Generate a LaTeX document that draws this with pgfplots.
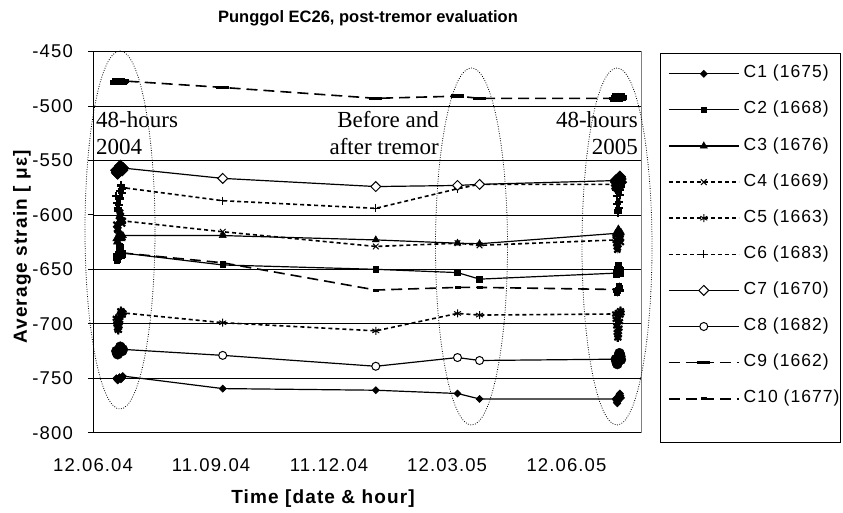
\documentclass[border=0pt]{standalone}
\usepackage{pgfplots}
\pgfplotsset{compat=1.18}
\usepackage{fontspec}
\setmainfont{Liberation Sans}
\newfontfamily\xl[LetterSpace=6]{Liberation Sans}
\newfontfamily\timesf{Liberation Serif}
\begin{document}
\begin{tikzpicture}
\useasboundingbox (-93pt,-79.3pt) rectangle (750pt,432.7pt);
\begin{axis}[
  at={(0pt,0pt)}, anchor=south west,
  scale only axis, width=548.7pt, height=381.2pt,
  xmin=0, xmax=423, ymin=-800, ymax=-450,
  clip=false,
  axis x line*=bottom, axis y line*=left,
  axis line style={black, line width=0.8pt, -},
  xtick={0,91,182,273,365},
  xticklabels={12.06.04,11.09.04,11.12.04,12.03.05,12.06.05},
  ytick={-800,-750,-700,-650,-600,-550,-500,-450},
  yticklabels={-800,-750,-700,-650,-600,-550,-500,-450},
  ymajorgrids, major grid style={black, line width=0.6pt},
  xtick style={draw=none},
  ytick style={black, line width=0.8pt},
  tick align=outside, major tick length=5pt,
  ticklabel style={font=\xl\fontsize{18.5}{21}\selectfont, inner sep=0pt},
  yticklabel style={anchor=east, xshift=-15pt},
  xticklabel style={anchor=base, yshift=-33.8pt},
  legend image code/.code={
    \draw[mark repeat=2,mark phase=2,#1] plot coordinates {(0pt,0pt) (35pt,0pt) (70pt,0pt)};
  },
  legend style={at={(1.04793,0.9625)}, anchor=north west, draw=none, fill=none,
    inner sep=0pt, outer sep=0pt, row sep=20.1pt, column sep=4pt,
    font=\xl\fontsize{17.5}{20}\selectfont,
    nodes={inner sep=0pt, text height=12pt, text depth=4pt}},
  legend cell align=left,
  solidl/.style={black, line width=1.2pt},
  dotl/.style={black, line width=1.6pt, dash pattern=on 4pt off 3pt},
  dashl/.style={black, line width=1.6pt, dash pattern=on 11pt off 6pt},
]
% C1
\addplot[solidl, mark=square*, mark size=2.5pt, mark options={solid, rotate=45, fill=black, line width=0.6pt}] coordinates {
(18,-750) (18.5,-751) (19,-752) (19.5,-751) (20,-750) (20.5,-749) (21,-750) (21.5,-751) (22,-750) (22.5,-749) (23,-748)
(100,-759.5) (218,-761) (281,-764) (298,-769)
(403,-769) (403.4,-770) (403.8,-772) (404.2,-773) (404.6,-771) (405,-769) (405.4,-767) (405.8,-765) (406.2,-764) (406.6,-766) (407,-768)};
\addlegendentry{C1 (1675)}
% C2
\addplot[solidl, mark=square*, mark size=2.8pt, mark options={solid, fill=black, line width=0.6pt}] coordinates {
(18,-639) (18.5,-642) (19,-641) (19.5,-638) (20,-634) (20.5,-629) (21,-630) (21.5,-633) (22,-637) (22.5,-636) (23,-635)
(100,-646) (218,-650) (281,-653) (298,-659)
(403,-653.5) (403.4,-655) (403.8,-653) (404.2,-650) (404.6,-648) (405,-646) (405.4,-648) (405.8,-650) (406.2,-652) (406.6,-654) (407,-651)};
\addlegendentry{C2 (1668)}
% C3
\addplot[solidl, mark=triangle*, mark size=4pt, mark options={solid, fill=black, line width=0.6pt}] coordinates {
(18,-622) (18.5,-625) (19,-624) (19.5,-621) (20,-618) (20.5,-616) (21,-617) (21.5,-620) (22,-622) (22.5,-621) (23,-619)
(100,-619) (218,-623) (281,-626) (298,-626.5)
(403,-617) (403.4,-618) (403.8,-619) (404.2,-617) (404.6,-615) (405,-613) (405.4,-614) (405.8,-616) (406.2,-618) (406.6,-617) (407,-616)};
\addlegendentry{C3 (1676)}
% C4
\addplot[dotl, mark=x, mark size=4pt, mark options={solid, line width=1pt}] coordinates {
(18,-609) (18.5,-613) (19,-614) (19.5,-610) (20,-605) (20.5,-600) (21,-598) (21.5,-601) (22,-605) (22.5,-608) (23,-605.5)
(100,-615.5) (218,-629) (281,-626) (298,-628)
(403,-623) (403.4,-626) (403.8,-629) (404.2,-632) (404.6,-630) (405,-627) (405.4,-624) (405.8,-621) (406.2,-620) (406.6,-622) (407,-625)};
\addlegendentry{C4 (1669)}
% C5
\addplot[dotl, mark=asterisk, mark size=4pt, mark options={solid, line width=1pt}] coordinates {
(18,-695) (18.5,-700) (19,-704) (19.5,-706) (20,-702) (20.5,-697) (21,-692) (21.5,-688) (22,-689) (22.5,-692) (23,-690)
(100,-699) (218,-706.5) (281,-690.5) (298,-692)
(403,-691) (403.4,-696) (403.8,-702) (404.2,-708) (404.6,-713) (405,-710) (405.4,-704) (405.8,-698) (406.2,-692) (406.6,-688) (407,-690)};
\addlegendentry{C5 (1663)}
% C6
\addplot[dotl, mark=+, mark size=4pt, mark options={solid, line width=1pt}] coordinates {
(18,-583) (18.5,-589) (19,-594) (19.5,-596) (20,-591) (20.5,-585) (21,-578) (21.5,-573) (22,-576) (22.5,-580) (23,-575)
(100,-587) (218,-594) (281,-576) (298,-572)
(403,-572) (403.4,-577) (403.8,-583) (404.2,-590) (404.6,-596) (405,-598) (405.4,-594) (405.8,-588) (406.2,-582) (406.6,-577) (407,-574)};
\addlegendentry{C6 (1683)}
% C7
\addplot[solidl, mark=square*, mark size=3.5pt, mark options={solid, rotate=45, fill=white, line width=1pt}] coordinates {
(18,-559) (18.5,-561) (19,-562) (19.5,-561) (20,-559) (20.5,-557) (21,-555) (21.5,-556) (22,-558) (22.5,-559) (23,-557)
(100,-566.5) (218,-574) (281,-573) (298,-572)
(403,-568.5) (403.4,-570) (403.8,-573) (404.2,-576) (404.6,-575) (405,-572) (405.4,-569) (405.8,-566) (406.2,-565) (406.6,-567) (407,-570)};
\addlegendentry{C7 (1670)}
% C8
\addplot[solidl, mark=*, mark size=4pt, mark options={solid, fill=white, line width=1pt}] coordinates {
(18,-725) (18.5,-727) (19,-728) (19.5,-727) (20,-725) (20.5,-723) (21,-721) (21.5,-722) (22,-724) (22.5,-725) (23,-723.5)
(100,-729) (218,-739) (281,-731) (298,-733.7)
(403,-732.5) (403.4,-734) (403.8,-736) (404.2,-737) (404.6,-735) (405,-732) (405.4,-729) (405.8,-727) (406.2,-728) (406.6,-730) (407,-733)};
\addlegendentry{C8 (1682)}
% C9
\addplot[dashl, mark=-, mark size=6.5pt, mark options={solid, line width=3.5pt}] coordinates {
(18,-478) (18.5,-479) (19,-478) (19.5,-477) (20,-476) (20.5,-477) (21,-478) (21.5,-479) (22,-478) (22.5,-477) (23,-477)
(100,-483) (218,-493) (281,-491) (298,-493)
(403,-493) (403.4,-494) (403.8,-495) (404.2,-494) (404.6,-492) (405,-490) (405.4,-491) (405.8,-493) (406.2,-494) (406.6,-493) (407,-492)};
\addlegendentry{C9 (1662)}
% C10
\addplot[dashl, mark=-, mark size=3pt, mark options={solid, line width=3pt}] coordinates {
(18,-636) (18.5,-638) (19,-637) (19.5,-635) (20,-633) (20.5,-632) (21,-633) (21.5,-635) (22,-637) (22.5,-636) (23,-635)
(100,-644) (218,-669) (281,-666.6) (298,-666.6)
(403,-668.5) (403.4,-670) (403.8,-672) (404.2,-673) (404.6,-671) (405,-668) (405.4,-665) (405.8,-664) (406.2,-666) (406.6,-668) (407,-669)};
\addlegendentry{C10 (1677)}
% 48-hour clusters: dense overlapping readings drawn as dark blobs
\addplot[forget plot, only marks, mark=x, mark size=4pt, mark options={black, line width=2.2pt}] coordinates {
(18,-609) (18.5,-613) (19,-614) (19.5,-610) (20,-605) (20.5,-600) (21,-598) (21.5,-601) (22,-605) (22.5,-608) (23,-605.5)
(403,-623) (403.4,-626) (403.8,-629) (404.2,-632) (404.6,-630) (405,-627) (405.4,-624) (405.8,-621) (406.2,-620) (406.6,-622) (407,-625)};
\addplot[forget plot, only marks, mark=asterisk, mark size=4pt, mark options={black, line width=2.2pt}] coordinates {
(18,-695) (18.5,-700) (19,-704) (19.5,-706) (20,-702) (20.5,-697) (21,-692) (21.5,-688) (22,-689) (22.5,-692) (23,-690)
(403,-691) (403.4,-696) (403.8,-702) (404.2,-708) (404.6,-713) (405,-710) (405.4,-704) (405.8,-698) (406.2,-692) (406.6,-688) (407,-690)};
\addplot[forget plot, only marks, mark=+, mark size=4pt, mark options={black, line width=2.2pt}] coordinates {
(18,-583) (18.5,-589) (19,-594) (19.5,-596) (20,-591) (20.5,-585) (21,-578) (21.5,-573) (22,-576) (22.5,-580) (23,-575)
(403,-572) (403.4,-577) (403.8,-583) (404.2,-590) (404.6,-596) (405,-598) (405.4,-594) (405.8,-588) (406.2,-582) (406.6,-577) (407,-574)};
\addplot[forget plot, only marks, mark=square*, mark size=4.2pt, mark options={black, rotate=45, fill=black}] coordinates {
(18,-559) (18.5,-561) (19,-562) (19.5,-561) (20,-559) (20.5,-557) (21,-555) (21.5,-556) (22,-558) (22.5,-559) (23,-557)
(403,-568.5) (403.4,-570) (403.8,-573) (404.2,-576) (404.6,-575) (405,-572) (405.4,-569) (405.8,-566) (406.2,-565) (406.6,-567) (407,-570)};
\addplot[forget plot, only marks, mark=*, mark size=5pt, mark options={black, fill=black}] coordinates {
(18,-725) (18.5,-727) (19,-728) (19.5,-727) (20,-725) (20.5,-723) (21,-721) (21.5,-722) (22,-724) (22.5,-725) (23,-723.5)
(403,-732.5) (403.4,-734) (403.8,-736) (404.2,-737) (404.6,-735) (405,-732) (405.4,-729) (405.8,-727) (406.2,-728) (406.6,-730) (407,-733)};
\end{axis}
% plot area right border
\draw[black!50, line width=1.5pt] (548.7pt,0pt) -- (548.7pt,381.2pt);
% ellipses
\draw[black, line width=0.8pt, dash pattern=on 0.8pt off 1.6pt] (27pt,202.7pt) ellipse [x radius=35pt, y radius=179pt];
\draw[black, line width=0.8pt, dash pattern=on 0.8pt off 1.6pt] (378.5pt,186.2pt) ellipse [x radius=36pt, y radius=178.5pt];
\draw[black, line width=0.8pt, dash pattern=on 0.8pt off 1.6pt] (524pt,186.2pt) ellipse [x radius=35pt, y radius=178.5pt];
% annotations
\begin{scope}[every node/.style={font=\timesf\fontsize{23}{27}\selectfont, inner sep=0pt}]
\node[anchor=base west] at (3pt,304.7pt) {48-hours};
\node[anchor=base west] at (3pt,277.7pt) {2004};
\node[anchor=base east] at (346pt,304.7pt) {Before and};
\node[anchor=base east] at (346pt,277.7pt) {after tremor};
\node[anchor=base east] at (545pt,304.7pt) {48-hours};
\node[anchor=base east] at (545pt,277.7pt) {2005};
\end{scope}
% legend frame
\draw[black, line width=0.8pt] (567pt,-9.3pt) rectangle (747pt,379.7pt);
% titles
\node[font=\bfseries\fontsize{16.5}{20}\selectfont, anchor=base] at (275pt,410pt) {Punggol EC26, post-tremor evaluation};
\node[font=\xl\bfseries\fontsize{19}{22}\selectfont, anchor=base] at (230pt,-70.5pt) {Time [date \& hour]};
\node[font=\xl\bfseries\fontsize{19}{22}\selectfont, rotate=90] at (-71pt,185.7pt) {Average strain [ με]};
\end{tikzpicture}
\end{document}
